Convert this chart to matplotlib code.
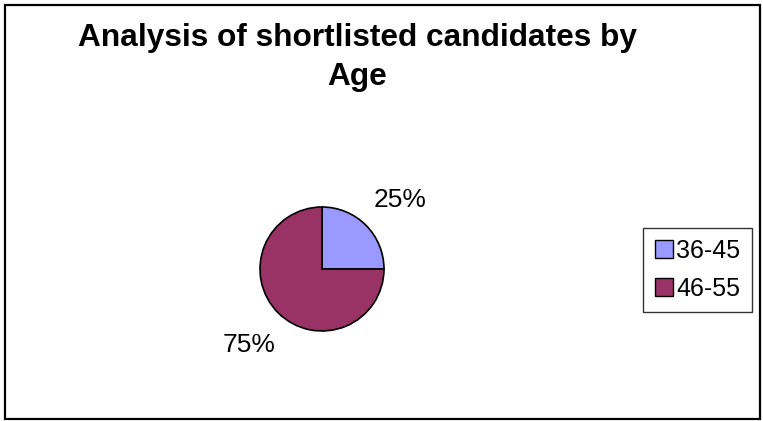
import matplotlib.pyplot as plt
from matplotlib.patches import Rectangle, Patch

# data
age_groups = ['36-45', '46-55']
shares = [25, 75]
colors = ['#9999FF', '#993366']

W, H = 763, 421
plt.rcParams['font.family'] = ['Liberation Sans', 'DejaVu Sans']

fig = plt.figure(figsize=(W / 100, H / 100), dpi=100)

# outer chart border
fig.patches.append(Rectangle((4.5 / W, 2.5 / H), 755.5 / W, 414 / H, transform=fig.transFigure,
                             fill=False, edgecolor='black', linewidth=1.6))

fig.text(357 / W, 1 - 38 / H, 'Analysis of shortlisted candidates by', ha='center', va='center',
         fontsize=22.8, fontweight='bold')
fig.text(357 / W, 1 - 77 / H, 'Age', ha='center', va='center', fontsize=22.8, fontweight='bold')

# pie axes: 200x200 px centred at (322, 269)
ax = fig.add_axes([222 / W, (H - 369) / H, 200 / W, 200 / H])
wedges, texts, autotexts = ax.pie(shares, colors=colors, startangle=90, counterclock=False,
                                  radius=0.62, autopct='%1.0f%%', pctdistance=1.67,
                                  wedgeprops=dict(edgecolor='black', linewidth=1.2),
                                  textprops=dict(fontsize=19, va='center_baseline'))
# excel puts the small slice label a bit further right and lower
x, y = autotexts[0].get_position()
autotexts[0].set_position((x + 0.05, y - 0.02))
ax.set_xlim(-1, 1)
ax.set_ylim(-1, 1)
ax.set_aspect('equal')
ax.axis('off')

handles = [Patch(facecolor=c, edgecolor='black', linewidth=1) for c in colors]
leg = fig.legend(handles, age_groups, loc='center', bbox_to_anchor=(697.5 / W, 1 - 270 / H),
                 fontsize=18, frameon=True, fancybox=False, edgecolor='black',
                 handlelength=0.72, handleheight=0.72, handletextpad=0.15, labelspacing=0.55,
                 borderpad=0.45, borderaxespad=0)
leg.get_frame().set_linewidth(1)

fig.savefig('out.png', dpi=100)
